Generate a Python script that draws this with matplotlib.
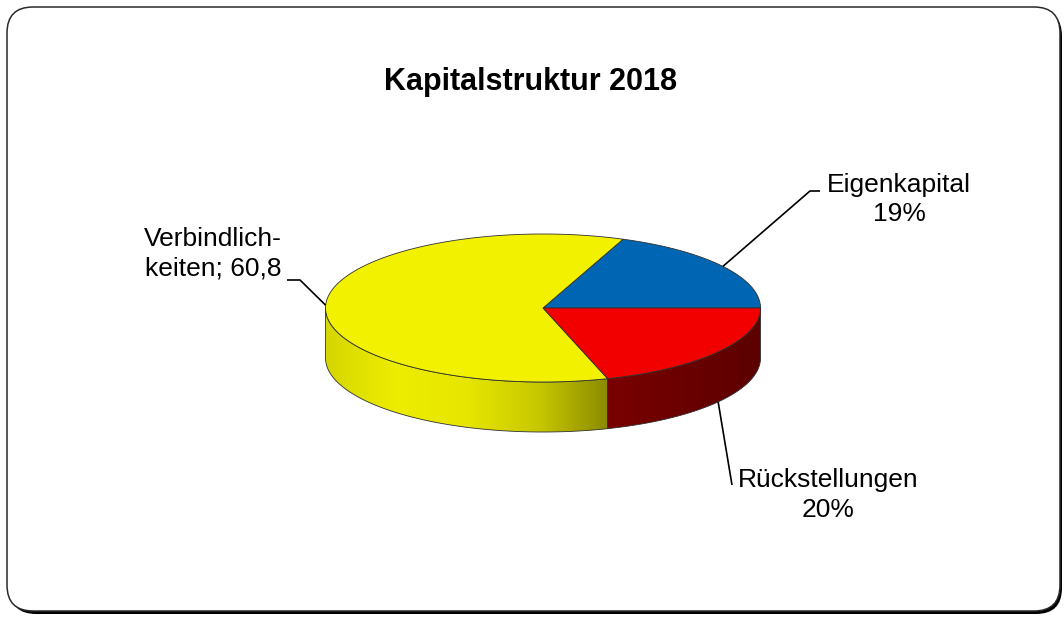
import numpy as np
import matplotlib
matplotlib.use('Agg')
import matplotlib.pyplot as plt
from matplotlib.patches import Polygon, FancyBboxPatch
from matplotlib.colors import LinearSegmentedColormap

plt.rcParams['font.family'] = ['Liberation Sans', 'DejaVu Sans']

# Kapitalstruktur 2018 (Anteile in %)
names = ['Eigenkapital', 'Verbindlichkeiten', 'Rückstellungen']
values = [19.0, 60.8, 20.2]
top_colors = ['#0066B3', '#F2F200', '#F20000']
side_colors = [['#003A66', '#002A4A'],
               ['#D6D600', '#EDED00', '#E6E600', '#C8C800', '#8A8A00'],
               ['#7A0000', '#6A0000', '#5C0000']]

title = 'Kapitalstruktur 2018'

W, H = 1064, 617
fig = plt.figure(figsize=(W / 100, H / 100), dpi=100)
ax = fig.add_axes([0, 0, 1, 1])

# rahmen mit schatten
ax.add_patch(FancyBboxPatch((10, 10), 1052, 604, boxstyle='round,pad=0,rounding_size=26',
                            facecolor='black', edgecolor='none', zorder=0))
ax.add_patch(FancyBboxPatch((7, 7), 1053, 604, boxstyle='round,pad=0,rounding_size=26',
                            facecolor='white', edgecolor='#2a2a2a', lw=1.1, zorder=0.5))

cx, cy, rx, ry, depth = 543, 308, 217.5, 74, 50


def arc(t0, t1, dy=0.0, n=200):
    t = np.radians(np.linspace(t0, t1, n))
    return np.column_stack([cx + rx * np.cos(t), cy - ry * np.sin(t) + dy])


total = sum(values)
bounds = np.concatenate([[0], np.cumsum(values) / total * 360])
mids = (bounds[:-1] + bounds[1:]) / 2

# seitenwand (nur vordere haelfte sichtbar)
for i in range(len(values)):
    a0, a1 = max(bounds[i], 180), min(bounds[i + 1], 360)
    if a0 >= a1:
        continue
    pts = np.vstack([arc(a0, a1), arc(a1, a0, depth)])
    wall = Polygon(pts, closed=True, facecolor='none', edgecolor='#303030', lw=0.6, zorder=3)
    ax.add_patch(wall)
    cmap = LinearSegmentedColormap.from_list('side%d' % i, side_colors[i])
    grad = np.linspace(0, 1, 256).reshape(1, -1)
    im = ax.imshow(grad, cmap=cmap, extent=(pts[:, 0].min(), pts[:, 0].max(),
                                            pts[:, 1].max(), pts[:, 1].min()),
                   aspect='auto', interpolation='bilinear', zorder=2)
    im.set_clip_path(wall)

# deckflaeche
for i in range(len(values)):
    pts = np.vstack([[cx, cy], arc(bounds[i], bounds[i + 1])])
    ax.add_patch(Polygon(pts, closed=True, facecolor=top_colors[i],
                         edgecolor='#303030', lw=0.6, zorder=4))

# beschriftungen
pct = [round(v / total * 100) for v in values]
texts = ['%s\n%d%%' % (names[0], pct[0]),
         'Verbindlich-\nkeiten; ' + ('%.1f' % values[1]).replace('.', ','),
         '%s\n%d%%' % (names[2], pct[2])]

lk = dict(color='black', lw=1.2, zorder=5, solid_capstyle='butt')
tk = dict(ha='center', va='center', fontsize=19, linespacing=1.3)

# Eigenkapital
p = arc(mids[0], mids[0], n=1)[0]
ax.plot([p[0], 810, 820], [p[1], 191, 191], **lk)
ax.text(899, 199.5, texts[0], **tk)

# Verbindlichkeiten
p = arc(mids[1], mids[1], n=1)[0]
ax.plot([p[0], 300, 287], [p[1], 280, 280], **lk)
ax.text(213, 254, texts[1], **tk)

# Rückstellungen
p = arc(mids[2], mids[2], dy=depth, n=1)[0]
ax.plot([p[0], 732], [p[1], 485], **lk)
ax.text(828, 495, texts[2], **tk)

ax.text(531, 90, title, ha='center', va='baseline', fontsize=22, fontweight='bold')

ax.set_xlim(0, W)
ax.set_ylim(H, 0)
ax.axis('off')
fig.savefig('out.png', dpi=100, facecolor='white')
